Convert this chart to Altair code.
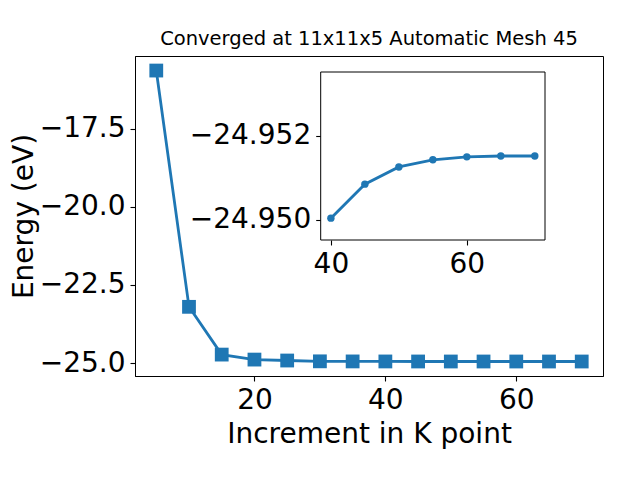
import altair as alt
import pandas as pd

kpoints = [5, 10, 15, 20, 25, 30, 35, 40, 45, 50, 55, 60, 65, 70]
energy = [-15.63, -23.20, -24.73, -24.89, -24.92, -24.946, -24.949,
          -24.95004, -24.95085, -24.95126, -24.95143, -24.9515, -24.95152, -24.95152]

inset_k = [40, 45, 50, 55, 60, 65, 70]
inset_e = [-24.95004, -24.95085, -24.95126, -24.95143, -24.9515, -24.95152, -24.95152]

main_x_ticks = [20, 40, 60]
main_y_ticks = [-25.0, -22.5, -20.0, -17.5]
inset_x_ticks = [40, 60]
inset_y_ticks = [-24.952, -24.950]

title_text = "Converged at 11x11x5 Automatic Mesh 45"
x_title = "Increment in K point"
y_title = "Energy (eV)"

BLUE = "#1f77b4"
W, H = 468, 320

main_df = pd.DataFrame({"k": kpoints, "e": energy})
inset_df = pd.DataFrame({"k": inset_k, "e": inset_e})
frame_df = pd.DataFrame({"a": [0]})

main = alt.Chart(main_df).mark_line(
    color=BLUE, strokeWidth=2.8,
    point=alt.OverlayMarkDef(shape="square", size=190, filled=True, color=BLUE, opacity=1),
).encode(
    x=alt.X("k:Q", scale=alt.Scale(domain=[1.75, 73.25], nice=False, zero=False),
            axis=alt.Axis(values=main_x_ticks, title=x_title, grid=False,
                          titleY=66, titleBaseline="alphabetic", titleX=W / 2, titleAlign="center")),
    y=alt.Y("e:Q", scale=alt.Scale(domain=[-25.416, -15.164], nice=False, zero=False),
            axis=alt.Axis(values=main_y_ticks, format=".1f", title=y_title, grid=False,
                          titleX=-103, titleY=H / 2, titleAngle=-90,
                          titleBaseline="alphabetic", titleAlign="center")),
)

ix_scale = alt.Scale(domain=[38.5, 71.5], range=[185.7, 410], nice=False, zero=False)
iy_scale = alt.Scale(domain=[-24.95352, -24.94952], range=[16, 184], nice=False, zero=False)

frame = alt.Chart(frame_df).mark_rect(fill="white", stroke="black", strokeWidth=1).encode(
    x=alt.X(datum=38.5, type="quantitative", scale=ix_scale,
            axis=alt.Axis(orient="bottom", offset=-136, values=inset_x_ticks, title=None,
                          grid=False, domain=False)),
    x2=alt.X2(datum=71.5),
    y=alt.Y(datum=-24.95352, type="quantitative", scale=iy_scale,
            axis=alt.Axis(orient="left", offset=-185.7, values=inset_y_ticks, format=".3f",
                          title=None, grid=False, domain=False)),
    y2=alt.Y2(datum=-24.94952),
)

inset_line = alt.Chart(inset_df).mark_line(
    color=BLUE, strokeWidth=2.8,
    point=alt.OverlayMarkDef(shape="circle", size=55, filled=True, color=BLUE, opacity=1),
).encode(
    x=alt.X("k:Q", scale=ix_scale),
    y=alt.Y("e:Q", scale=iy_scale),
)

inset = alt.layer(frame, inset_line)

chart = alt.layer(main, inset).resolve_scale(x="independent", y="independent").properties(
    width=W, height=H,
    title=alt.TitleParams(title_text, fontSize=19.5, font="DejaVu Sans", fontWeight="normal",
                          color="black", offset=7, anchor="middle"),
    autosize=alt.AutoSizeParams(type="none"),
    padding={"left": 127, "top": 48, "right": 20, "bottom": 100},
).configure_view(
    stroke="black", strokeWidth=1
).configure_axis(
    labelFont="DejaVu Sans", titleFont="DejaVu Sans",
    labelFontSize=28, titleFontSize=28, titleFontWeight="normal",
    labelColor="black", titleColor="black",
    tickColor="black", domainColor="black", tickSize=5, tickWidth=1.1,
    labelPadding=5, domainWidth=1,
)

chart.save("out.html", embed_options={"renderer": "svg", "actions": False})
